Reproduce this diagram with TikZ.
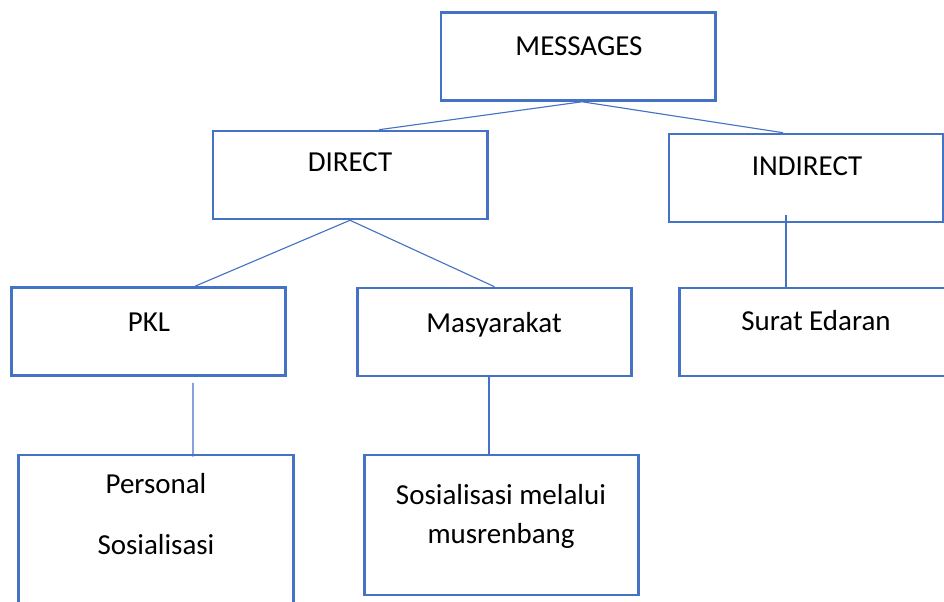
\documentclass[tikz,border=0pt]{standalone}
\usepackage{fontspec}
\setmainfont{Carlito}
\usetikzlibrary{calc}
\definecolor{msblue}{HTML}{4472C4}
\tikzset{
	box/.style={draw=msblue,line width=1.8pt,minimum width=6.86cm,minimum height=2.2cm,inner sep=0pt},
	tallbox/.style={box,minimum height=3.5cm},
	txt/.style={font=\fontsize{20.6}{27.7}\selectfont,inner sep=0pt,align=center},
	link/.style={draw=msblue,line width=0.8pt}
}
\begin{document}
\begin{tikzpicture}[x=0.025cm,y=-0.025cm]
		\useasboundingbox (0,0) rectangle (944,602);
		% boxes
		\node[box] (messages) at (578,56.5) {};
		\node[box] (direct) at (350,175) {};
		\node[box] (indirect) at (806,178) {};
		\node[box] (pkl) at (148.5,331.5) {};
		\node[box] (masyarakat) at (494.5,332) {};
		\node[box] (surat) at (816.5,332) {};
		\node[tallbox,minimum height=4cm] (personal) at (156,535) {};
		\node[tallbox] (musrenbang) at (501.5,525) {};
%
		\node[txt,anchor=base] (messagestxt) at (579,56) {MESSAGES};
		\node[txt,anchor=base] (directtxt) at (350,172) {DIRECT};
		\node[txt,anchor=base] (indirecttxt) at (807,176) {INDIRECT};
		\node[txt,anchor=base] (pkltxt) at (149,331) {PKL};
		\node[txt,anchor=base] (masyarakattxt) at (494,332) {Masyarakat};
		\node[txt,anchor=base] (surattxt) at (816,330) {Surat Edaran};
		\node[txt] (personaltxt) at (156,514) {Personal\\[15.7pt]Sosialisasi};
		\node[txt] (musrenbangtxt) at (501,516) {Sosialisasi melalui\\musrenbang};
		% connectors
		\draw[link] ($(messages.south)+(4,0)$) -- ($(direct.north)+(29,0)$);
		\draw[link] ($(messages.south)+(4,0)$) -- ($(indirect.north)+(-23,0)$);
		\draw[link] (direct.south) -- ($(pkl.north)+(46.5,0)$);
		\draw[link] (direct.south) -- (masyarakat.north);
		\draw[link] ($(indirect.south)+(-20,-8)$) -- ($(surat.north)+(-30.5,0)$);
		\draw[link] ($(pkl.south)+(44.5,6)$) -- ($(personal.north)+(37,3)$);
		\draw[link] ($(masyarakat.south)+(-5.5,-2)$) -- ($(musrenbang.north)+(-12.5,0)$);
\end{tikzpicture}
\end{document}
